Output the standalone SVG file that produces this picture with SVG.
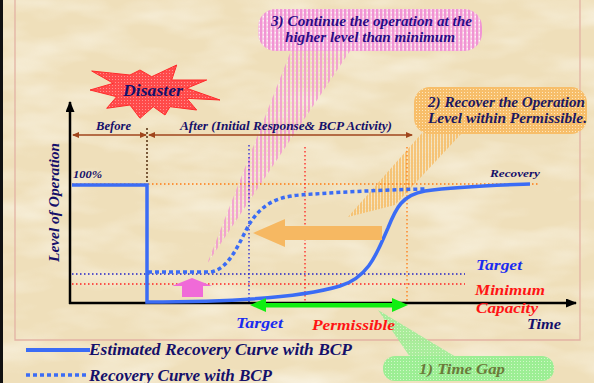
<svg xmlns="http://www.w3.org/2000/svg" width="594" height="383" viewBox="0 0 594 383">
<defs>
<style>
.t{font-family:"Liberation Serif","DejaVu Serif",serif;font-weight:bold;font-style:italic}
.navy{fill:#15106a}
.blue{fill:#1a2cf0}
.red{fill:#ff1414}
.vd{stroke-width:1.3;stroke-dasharray:1.5 2.5;fill:none}
.curve{stroke:#3b6cf5;stroke-width:3.5;fill:none}
</style>
<filter id="tex" x="0" y="0" width="100%" height="100%">
<feTurbulence type="fractalNoise" baseFrequency="0.012 0.035" numOctaves="3" seed="7"/>
<feColorMatrix type="matrix" values="0 0 0 0 1  0 0 0 0 1  0 0 0 0 0.96  1.8 0 0 0 -0.75"/>
</filter>
<pattern id="pinkP" width="4" height="4" patternUnits="userSpaceOnUse">
<rect width="2.5" height="4" fill="#f194d4"/><rect x="2.5" y="0" width="1.5" height="4" fill="#f8c4e8"/><rect x="2.8" y="0" width="1" height="1.5" fill="#ffffff"/>
</pattern>
<pattern id="pinkW" width="4" height="4" patternUnits="userSpaceOnUse">
<rect width="2" height="4" fill="#f28fd2"/><rect x="2.8" y="0" width="1" height="1.5" fill="#fde8f6"/>
</pattern>
<pattern id="orP" width="3" height="3" patternUnits="userSpaceOnUse">
<rect width="3" height="3" fill="#f7be6a"/><rect x="2" y="2" width="1" height="1" fill="#fde7bf"/>
</pattern>
<pattern id="orW" width="3" height="3" patternUnits="userSpaceOnUse">
<rect width="2" height="3" fill="#f7b95e"/><rect x="2" y="2" width="1" height="1" fill="#fde7bf"/>
</pattern>
<pattern id="grP" width="3" height="3" patternUnits="userSpaceOnUse">
<rect width="3" height="3" fill="#9cee94"/><rect x="1" y="1" width="1" height="1" fill="#d0f8c8"/>
</pattern>
<pattern id="redP" width="3" height="3" patternUnits="userSpaceOnUse">
<rect width="3" height="3" fill="#ff4a4a"/><rect x="1" y="1" width="1" height="1" fill="#ff9090"/>
</pattern>
<marker id="blk" markerUnits="userSpaceOnUse" markerWidth="11" markerHeight="9" refX="10" refY="4.5" orient="auto">
<path d="M0,0 L11,4.5 L0,9 z" fill="#000"/>
</marker>
<marker id="brn" markerUnits="userSpaceOnUse" markerWidth="7" markerHeight="6" refX="6" refY="3" orient="auto-start-reverse">
<path d="M0,0 L7,3 L0,6 z" fill="#a0451c"/>
</marker>
</defs>

<!-- background -->
<rect width="594" height="383" fill="#efdfba"/>
<rect width="594" height="383" filter="url(#tex)" opacity="0.6"/>
<rect x="0" y="0" width="3" height="383" fill="#111"/>
<path d="M15,0 V340 H580 V0" fill="none" stroke="#e3b2a4" stroke-width="1.3"/>

<!-- callouts (behind the chart lines) -->
<g id="callout-continue">
<polygon points="292,48 352,48 207,264" fill="url(#pinkW)" opacity="0.75"/>
<rect x="258" y="9" width="224" height="42" rx="18" fill="url(#pinkP)"/>
<text class="t" x="271" y="26" font-size="14" fill="#2a0a86" textLength="201" lengthAdjust="spacingAndGlyphs">3) Continue the operation at the</text>
<text class="t" x="285" y="42" font-size="14" fill="#2a0a86" textLength="170" lengthAdjust="spacingAndGlyphs">higher level than minimum</text>
</g>
<g id="callout-recover">
<polygon points="422,133 462,133 395,205 348,217" fill="url(#orW)" opacity="0.75"/>
<rect x="414" y="87" width="173" height="47" rx="16" fill="url(#orP)"/>
<text class="t" x="428" y="107" font-size="14" fill="#1c1860" textLength="157" lengthAdjust="spacingAndGlyphs">2) Recover the Operation</text>
<text class="t" x="428" y="123" font-size="14" fill="#1c1860" textLength="159" lengthAdjust="spacingAndGlyphs">Level within Permissible.</text>
</g>
<g id="callout-timegap">
<polygon points="378,310 410,357 456,357" fill="url(#grP)" opacity="0.85"/>
<rect x="383" y="356" width="171" height="25" rx="12" fill="url(#grP)"/>
<text class="t" x="419" y="374" font-size="15" fill="#6b7a3a" textLength="86" lengthAdjust="spacingAndGlyphs">1) Time Gap</text>
</g>

<g id="disaster">
<polygon points="91.7,71 130,75 140,70 151.7,76.7 176.7,65 171.7,80 206.7,80 186.7,88.3 220,100 186.7,98.3 196.7,110 170,106.7 165,115 153.3,106.7 140,118.3 130,105 106.7,108.3 116.7,96.7 90,90 113.3,83.3" fill="url(#redP)" stroke="#ff2a2a" stroke-width="1"/>
<text class="t navy" x="123" y="96" font-size="17" textLength="60" lengthAdjust="spacingAndGlyphs">Disaster</text>
</g>

<!-- connectors / chart lines -->
<g id="connectors">
<line x1="72" y1="184" x2="538" y2="184" class="vd" stroke="#ff7a10"/>
<line x1="72" y1="274" x2="465" y2="274" class="vd" stroke="#2222c8"/>
<line x1="72" y1="284" x2="465" y2="284" class="vd" stroke="#ff2020"/>
<line x1="147" y1="128" x2="147" y2="303" stroke="#7a5a3a" stroke-width="2" stroke-dasharray="2 2"/>
<line x1="249" y1="145" x2="249" y2="303" class="vd" stroke="#2222d8"/>
<line x1="305" y1="147" x2="305" y2="303" class="vd" stroke="#ff2020"/>
<line x1="407" y1="147" x2="407" y2="303" class="vd" stroke="#ff7a10"/>
<line x1="73" y1="135" x2="146" y2="135" stroke="#a0451c" stroke-width="1.6" marker-start="url(#brn)" marker-end="url(#brn)"/>
<line x1="149" y1="135" x2="412" y2="135" stroke="#a0451c" stroke-width="1.6" marker-start="url(#brn)" marker-end="url(#brn)"/>
<line x1="70" y1="304" x2="70" y2="102" stroke="#000" stroke-width="2.5" marker-end="url(#blk)"/>
<line x1="69" y1="303" x2="576" y2="303" stroke="#000" stroke-width="2.5" marker-end="url(#blk)"/>
<path class="curve" stroke-dasharray="4 3" d="M148,272 H210 C230,270 240,240 250,223 C262,205 275,197 300,195 C340,192 380,190 425,189"/>
<path class="curve" d="M72,185 H147 V302 C220,302 300,298 340,286 C370,277 378,250 388,228 C396,208 402,195 425,191 C460,186 500,185 530,184"/>
<polygon points="172,286 192,278 212,286 203,286 203,297 182,297 182,286" fill="#f06ad8"/>
<polygon points="253,233 285,219 285,226 382,226 382,240 285,240 285,247" fill="#f6b862"/>
<rect x="262" y="303" width="134" height="4.5" fill="#11ee11"/>
<polygon points="250,305 266,298 266,312" fill="#11ee11"/>
<polygon points="408,305 392,298 392,312" fill="#11ee11"/>
</g>

<g id="labels">
<text class="t navy" x="96" y="130" font-size="11.5" textLength="35" lengthAdjust="spacingAndGlyphs">Before</text>
<text class="t navy" x="180" y="130" font-size="11.5" textLength="212" lengthAdjust="spacingAndGlyphs">After (Initial Response&amp; BCP Activity)</text>
<text class="t navy" x="73" y="178" font-size="11" textLength="29" lengthAdjust="spacingAndGlyphs">100%</text>
<text class="t navy" x="490" y="177" font-size="11" textLength="50" lengthAdjust="spacingAndGlyphs">Recovery</text>
<text class="t navy" transform="translate(59,262) rotate(-90)" font-size="14" textLength="119" lengthAdjust="spacingAndGlyphs">Level of Operation</text>
<text class="t blue" x="476" y="270" font-size="15" textLength="46" lengthAdjust="spacingAndGlyphs">Target</text>
<text class="t red" x="475" y="295" font-size="15" textLength="70" lengthAdjust="spacingAndGlyphs">Minimum</text>
<text class="t red" x="476" y="313" font-size="15" textLength="62" lengthAdjust="spacingAndGlyphs">Capacity</text>
<text class="t navy" x="527" y="329" font-size="15" textLength="34" lengthAdjust="spacingAndGlyphs">Time</text>
<text class="t blue" x="236" y="328" font-size="15" textLength="47" lengthAdjust="spacingAndGlyphs">Target</text>
<text class="t red" x="312" y="330" font-size="15" textLength="83" lengthAdjust="spacingAndGlyphs">Permissible</text>
</g>

<g id="legend">
<line x1="26" y1="350" x2="90" y2="350" stroke="#3b6cf5" stroke-width="4"/>
<line x1="26" y1="375" x2="88" y2="375" stroke="#3b6cf5" stroke-width="3.5" stroke-dasharray="4 3"/>
<text class="t navy" x="89" y="355" font-size="16" textLength="263" lengthAdjust="spacingAndGlyphs">Estimated Recovery Curve with BCP</text>
<text class="t navy" x="89" y="381" font-size="16" textLength="183" lengthAdjust="spacingAndGlyphs">Recovery Curve with BCP</text>
</g>
</svg>
